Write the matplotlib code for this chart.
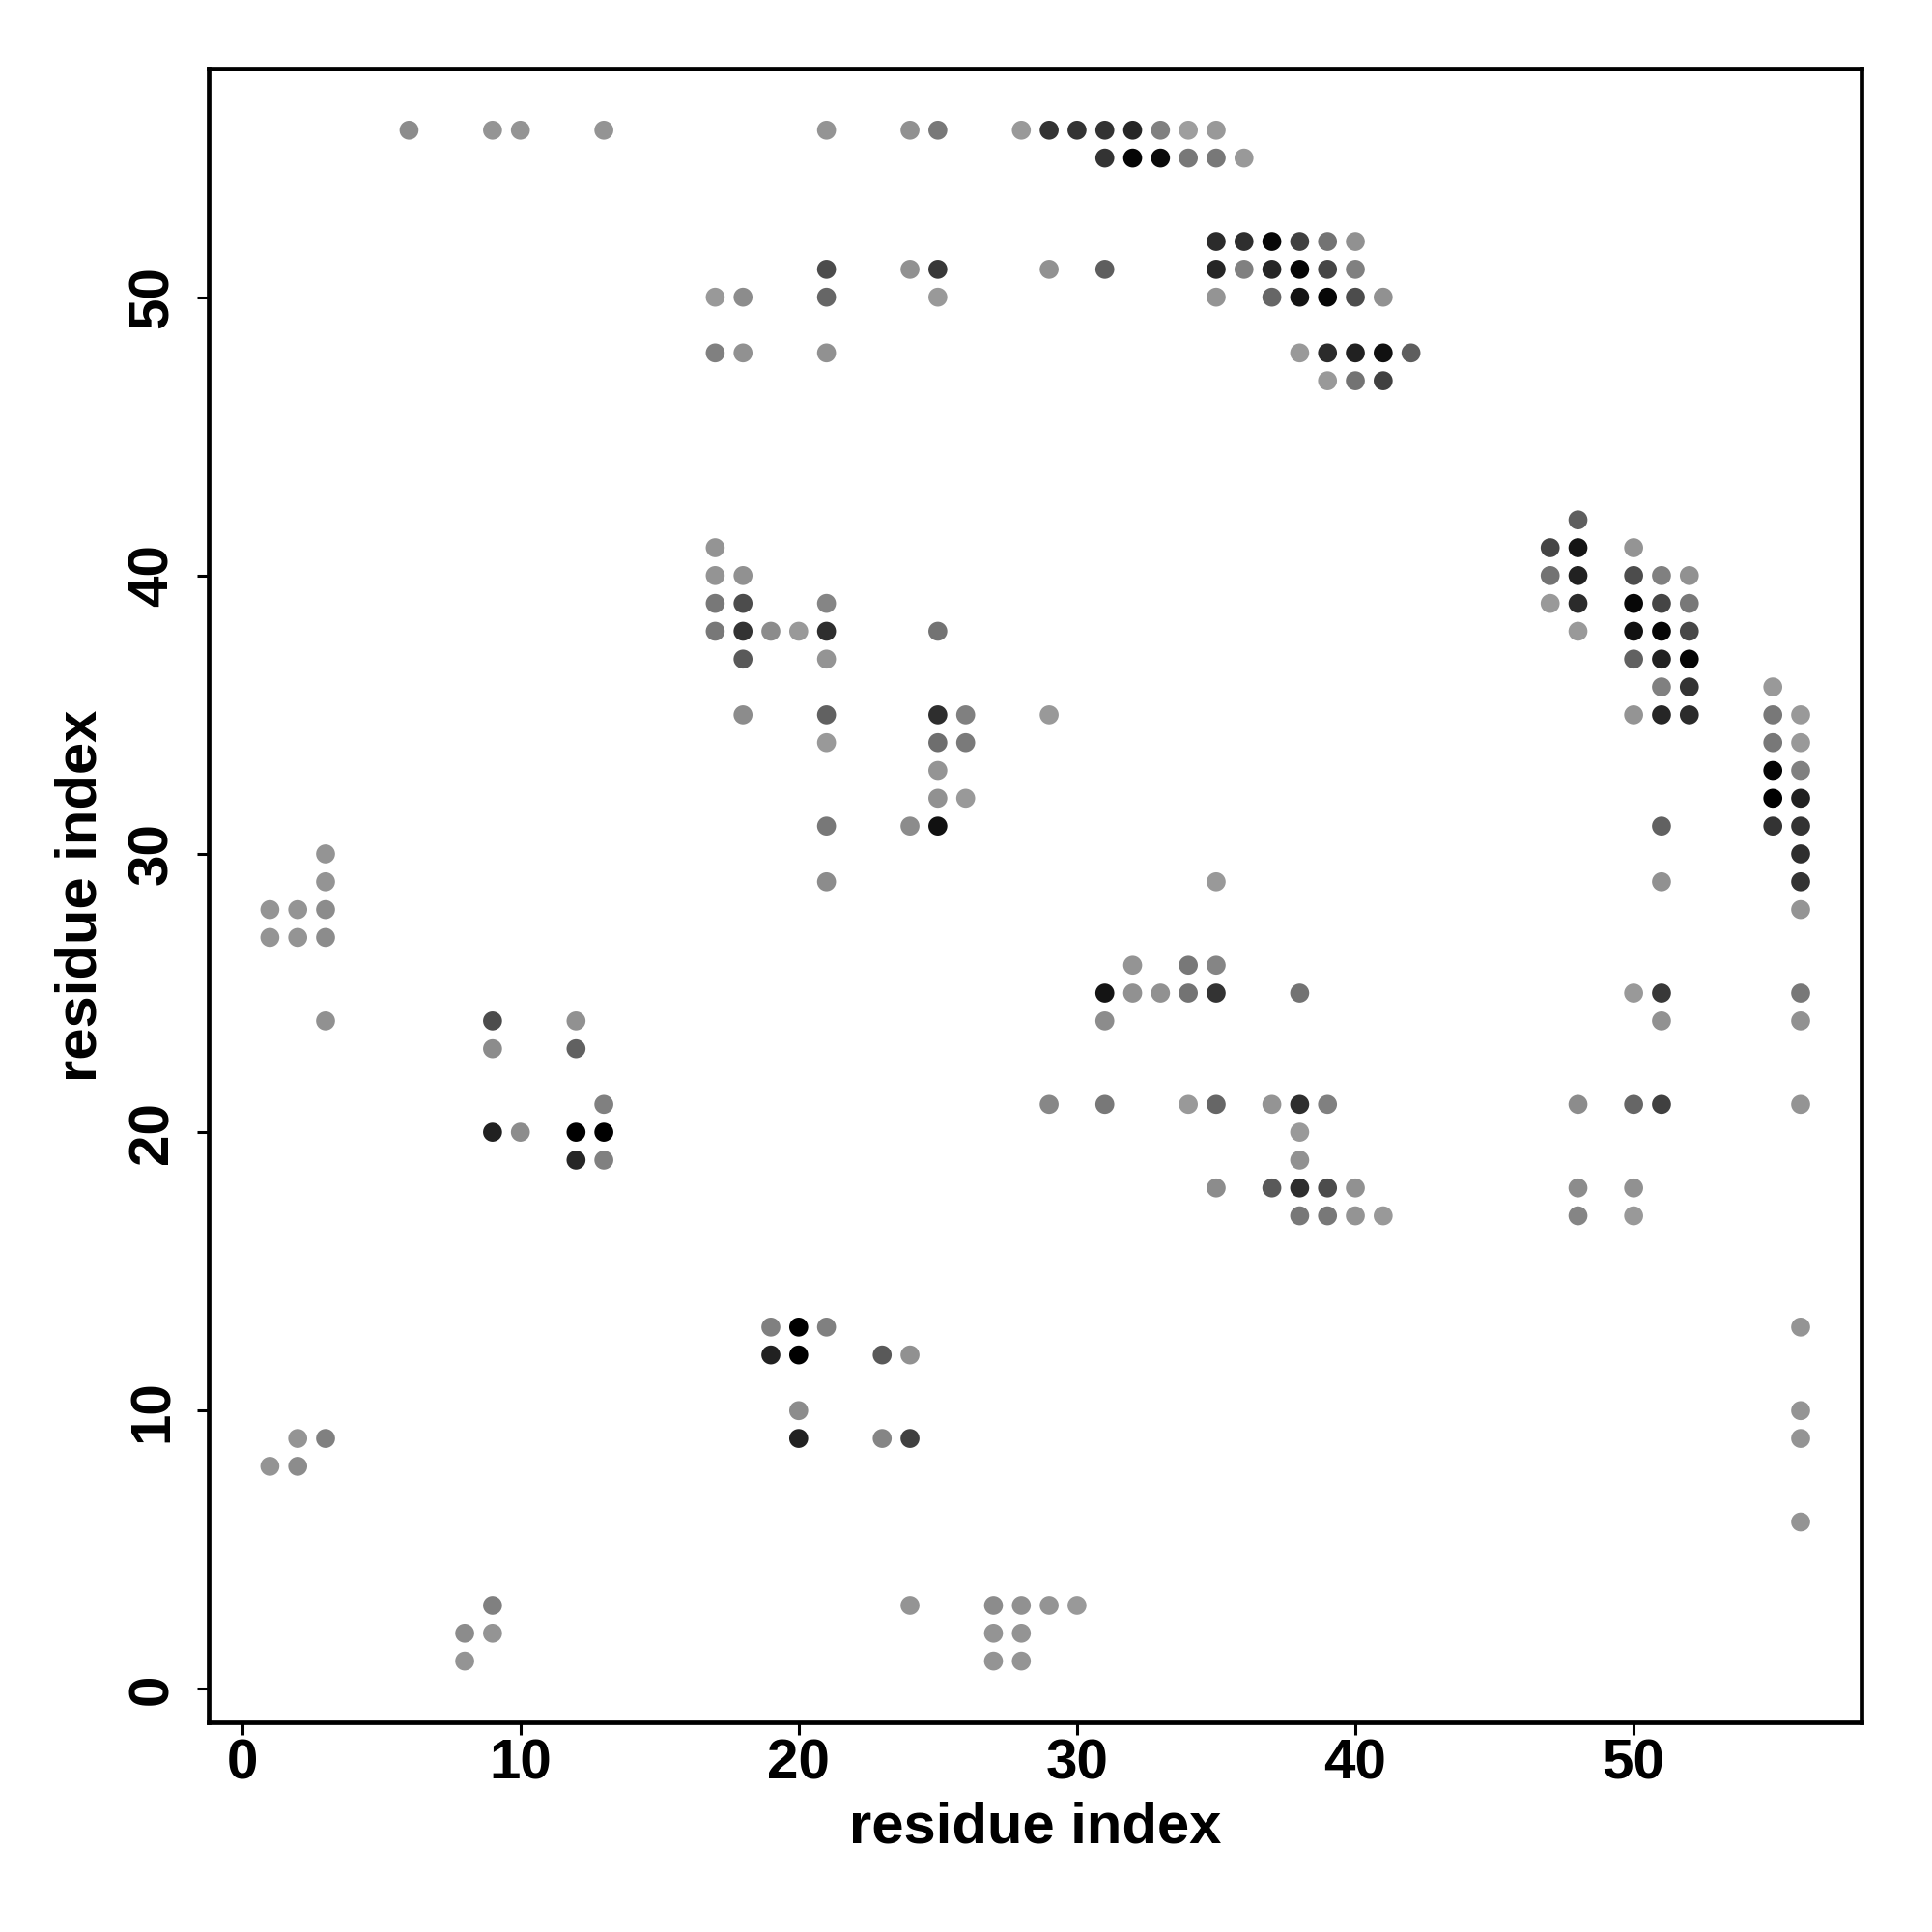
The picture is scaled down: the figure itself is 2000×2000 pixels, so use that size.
import numpy as np
import matplotlib
matplotlib.use("Agg")
import matplotlib.pyplot as plt

# contact map, one line per row (residue j), gray level 0 = black, 1 = white
res_j = [56] * 15 + [55] * 6 + [52] * 6 + [51] * 11 + [50] * 10 + [48] * 8 + [47] * 3 + \
        [42] * 1 + [41] * 4 + [40] * 7 + [39] * 8 + [38] * 10 + [37] * 5 + [36] * 3 + \
        [35] * 10 + [34] * 5 + [33] * 3 + [32] * 4 + [31] * 6 + [30] * 2 + [29] * 5 + \
        [28] * 4 + [27] * 3 + [26] * 3 + [25] * 9 + [24] * 6 + [23] * 2 + [21] * 12 + \
        [20] * 5 + [19] * 3 + [18] * 7 + [17] * 6 + [13] * 4 + [12] * 4 + [10] * 2 + \
        [9] * 6 + [8] * 2 + [6] * 1 + [3] * 6 + [2] * 4 + [1] * 3

res_i = [6, 9, 10, 13, 21, 24, 25, 28, 29, 30, 31, 32, 33, 34, 35,      # 56
         31, 32, 33, 34, 35, 36,                                          # 55
         35, 36, 37, 38, 39, 40,                                          # 52
         21, 24, 25, 29, 31, 35, 36, 37, 38, 39, 40,                      # 51
         17, 18, 21, 25, 35, 37, 38, 39, 40, 41,                          # 50
         17, 18, 21, 38, 39, 40, 41, 42,                                  # 48
         39, 40, 41,                                                      # 47
         48,                                                              # 42
         17, 47, 48, 50,                                                  # 41
         17, 18, 47, 48, 50, 51, 52,                                      # 40
         17, 18, 21, 47, 48, 50, 51, 52,                                  # 39
         17, 18, 19, 20, 21, 25, 48, 50, 51, 52,                          # 38
         18, 21, 50, 51, 52,                                              # 37
         51, 52, 55,                                                      # 36
         18, 21, 25, 26, 29, 50, 51, 52, 55, 56,                          # 35
         21, 25, 26, 55, 56,                                              # 34
         25, 55, 56,                                                      # 33
         25, 26, 55, 56,                                                  # 32
         21, 24, 25, 51, 55, 56,                                          # 31
         3, 56,                                                           # 30
         3, 21, 35, 51, 56,                                               # 29
         1, 2, 3, 56,                                                     # 28
         1, 2, 3,                                                         # 27
         32, 34, 35,                                                      # 26
         31, 32, 33, 34, 35, 38, 50, 51, 56,                              # 25
         3, 9, 12, 31, 51, 56,                                            # 24
         9, 12,                                                           # 23
         13, 29, 31, 34, 35, 37, 38, 39, 48, 50, 51, 56,                  # 21
         9, 10, 12, 13, 38,                                               # 20
         12, 13, 38,                                                      # 19
         35, 37, 38, 39, 40, 48, 50,                                      # 18
         38, 39, 40, 41, 48, 50,                                          # 17
         19, 20, 21, 56,                                                  # 13
         19, 20, 23, 24,                                                  # 12
         20, 56,                                                          # 10
         2, 3, 20, 23, 24, 56,                                            # 9
         1, 2,                                                            # 8
         56,                                                              # 6
         9, 24, 27, 28, 29, 30,                                           # 3
         8, 9, 27, 28,                                                    # 2
         8, 27, 28]                                                       # 1

shade = [.55, .58, .58, .58, .58, .57, .47, .60, .20, .20, .20, .15, .50, .62, .60,
         .20, .02, .04, .47, .47, .60,
         .17, .18, .03, .25, .45, .57,
         .30, .57, .22, .57, .37, .15, .50, .15, .02, .27, .50,
         .60, .55, .40, .60, .58, .40, .08, .03, .30, .57,
         .50, .57, .57, .60, .17, .13, .07, .37,
         .60, .45, .25,
         .37,
         .58, .27, .08, .58,
         .58, .57, .45, .13, .30, .50, .57,
         .47, .30, .52, .60, .17, .03, .27, .47,
         .47, .20, .55, .60, .18, .45, .60, .07, .02, .28,
         .35, .58, .38, .13, .02,
         .50, .20, .60,
         .55, .38, .18, .50, .60, .58, .15, .17, .47, .60,
         .60, .43, .48, .47, .60,
         .58, .02, .50,
         .57, .60, .00, .13,
         .47, .55, .07, .38, .20, .20,
         .58, .18,
         .58, .55, .60, .57, .20,
         .58, .58, .55, .58,
         .58, .58, .55,
         .58, .47, .52,
         .08, .57, .57, .45, .20, .45, .60, .22, .47,
         .57, .30, .57, .55, .57, .57,
         .55, .38,
         .50, .53, .47, .60, .40, .58, .18, .50, .55, .40, .25, .58,
         .13, .55, .00, .00, .60,
         .15, .50, .57,
         .55, .35, .18, .30, .57, .55, .57,
         .47, .47, .58, .60, .52, .60,
         .50, .00, .50, .58,
         .13, .00, .35, .57,
         .55, .58,
         .58, .50, .13, .52, .25, .58,
         .58, .55,
         .58,
         .50, .58, .55, .57, .58, .60,
         .55, .58, .58, .58,
         .58, .58, .58]

x_ticks = [0, 10, 20, 30, 40, 50]
y_ticks = [0, 10, 20, 30, 40, 50]
axis_label = "residue index"

plt.rcParams['font.family'] = ['Liberation Sans', 'DejaVu Sans']
plt.rcParams['font.weight'] = 'bold'

fig = plt.figure(figsize=(20, 20), dpi=100)
ax = fig.add_axes([0.108, 0.1085, 0.8557, 0.8558])

ax.scatter(res_i, res_j, c=shade, cmap='gray', vmin=0, vmax=1, s=200,
           linewidths=0, zorder=3)

ax.set_xlim(-1.2, 58.2)
ax.set_ylim(-1.2, 58.2)
ax.set_xticks(x_ticks)
ax.set_yticks(y_ticks)
ax.set_xticklabels([str(t) for t in x_ticks], fontsize=42, fontweight='bold')
ax.set_yticklabels([str(t) for t in y_ticks], fontsize=42, fontweight='bold',
                   rotation=90, va='center')
ax.tick_params(axis='both', direction='out', length=9, width=2.2)
ax.tick_params(axis='x', pad=3)
ax.tick_params(axis='y', pad=13)
for sp in ax.spines.values():
    sp.set_linewidth(3.4)

ax.set_xlabel(axis_label, fontsize=43, fontweight='bold', labelpad=8)
ax.set_ylabel(axis_label, fontsize=43, fontweight='bold', labelpad=14)

fig.savefig("out.png", dpi=100, facecolor='white')
